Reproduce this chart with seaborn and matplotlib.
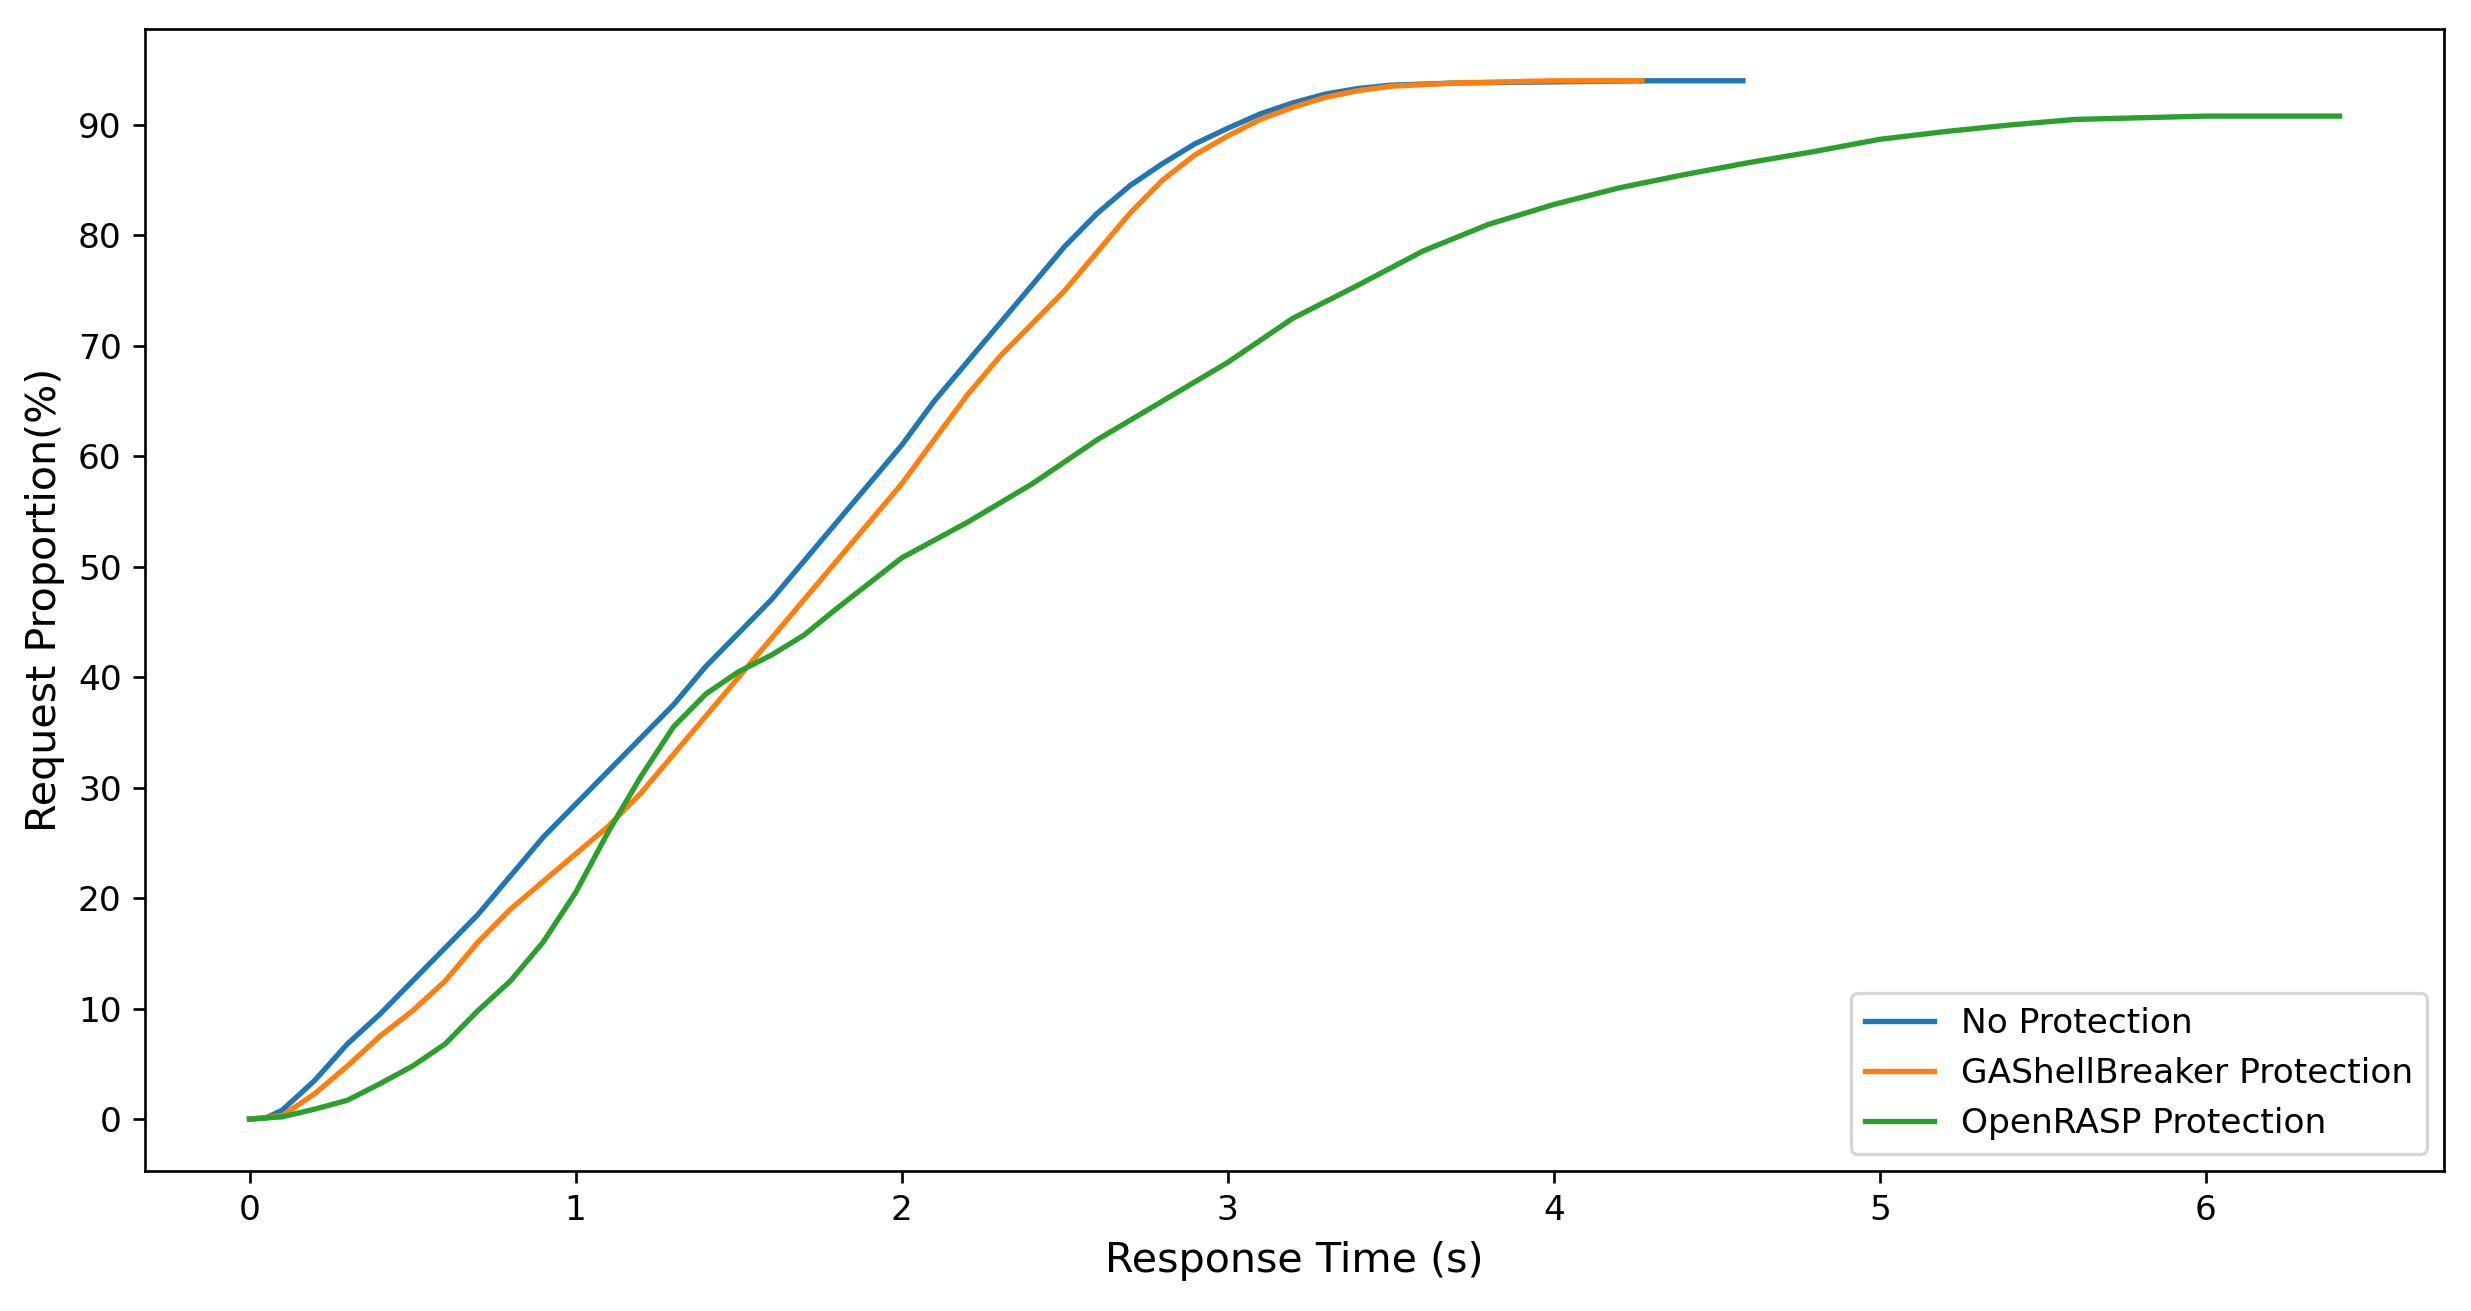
import numpy as np
import pandas as pd
import matplotlib
matplotlib.use("Agg")
import matplotlib.pyplot as plt
import seaborn as sns

# Javob vaqti (s) va so'rovlar ulushi (%)
no_prot_x = [0, 0.05, 0.1, 0.2, 0.3, 0.4, 0.5, 0.6, 0.7, 0.8, 0.9, 1.0, 1.1, 1.2, 1.3, 1.4,
             1.5, 1.6, 1.7, 1.8, 1.9, 2.0, 2.1, 2.2, 2.3, 2.4, 2.5, 2.6, 2.7, 2.8, 2.9, 3.0,
             3.1, 3.2, 3.3, 3.4, 3.5, 3.7, 4.0, 4.3, 4.58]
no_prot_y = [0, 0.1, 0.8, 3.5, 6.8, 9.5, 12.5, 15.5, 18.5, 22, 25.5, 28.5, 31.5, 34.5, 37.5, 41,
             44, 47, 50.5, 54, 57.5, 61, 65, 68.5, 72, 75.5, 79, 82, 84.5, 86.5, 88.3, 89.7,
             91, 92, 92.8, 93.3, 93.6, 93.8, 93.9, 94, 94]

ga_x = [0, 0.1, 0.2, 0.3, 0.4, 0.5, 0.6, 0.7, 0.8, 0.9, 1.0, 1.1, 1.2, 1.3, 1.4, 1.5, 1.6,
        1.7, 1.8, 1.9, 2.0, 2.1, 2.2, 2.3, 2.4, 2.5, 2.6, 2.7, 2.8, 2.9, 3.0, 3.1, 3.2, 3.3,
        3.4, 3.5, 3.7, 4.0, 4.27]
ga_y = [0, 0.3, 2.3, 4.8, 7.5, 9.8, 12.5, 16, 19, 21.5, 24, 26.5, 29.5, 33, 36.5, 40, 43.5,
        47, 50.5, 54, 57.5, 61.5, 65.5, 69, 72, 75, 78.5, 82, 85, 87.3, 89, 90.5, 91.6, 92.5,
        93.1, 93.5, 93.8, 94, 94]

rasp_x = [0, 0.1, 0.2, 0.3, 0.4, 0.5, 0.6, 0.7, 0.8, 0.9, 1.0, 1.1, 1.2, 1.3, 1.4, 1.5, 1.6,
          1.7, 1.8, 1.9, 2.0, 2.2, 2.4, 2.6, 2.8, 3.0, 3.2, 3.4, 3.6, 3.8, 4.0, 4.2, 4.4, 4.6,
          4.8, 5.0, 5.2, 5.4, 5.6, 6.0, 6.41]
rasp_y = [0, 0.2, 0.9, 1.7, 3.2, 4.8, 6.8, 9.8, 12.5, 16, 20.5, 26, 31, 35.5, 38.5, 40.5, 42,
          43.8, 46.2, 48.5, 50.8, 54, 57.5, 61.5, 65, 68.5, 72.5, 75.5, 78.6, 81, 82.8, 84.3,
          85.5, 86.6, 87.6, 88.7, 89.4, 90, 90.5, 90.8, 90.8]

names = ["No Protection", "GAShellBreaker Protection", "OpenRASP Protection"]
ranglar = ["#1f77b4", "#ff7f0e", "#2ca02c"]

plt.rcParams["xtick.labelsize"] = 10.3
plt.rcParams["ytick.labelsize"] = 10.3

fig, ax = plt.subplots(figsize=(2471 / 240, 1311 / 240), dpi=240)
fig.subplots_adjust(left=0.0587, right=0.9891, bottom=0.1068, top=0.978)

for xs, ys, nom, rang in zip([no_prot_x, ga_x, rasp_x], [no_prot_y, ga_y, rasp_y], names, ranglar):
    sns.lineplot(x=xs, y=ys, ax=ax, label=nom, color=rang, errorbar=None, linewidth=1.6)

ax.set_xticks(range(0, 7))
ax.set_yticks(range(0, 100, 10))
ax.set_xlabel("Response Time (s)", fontsize=12.4)
ax.set_ylabel("Request Proportion(%)", fontsize=12.4)
ax.legend(loc="lower right", fontsize=10.3)

fig.savefig("out.png", dpi=240)
